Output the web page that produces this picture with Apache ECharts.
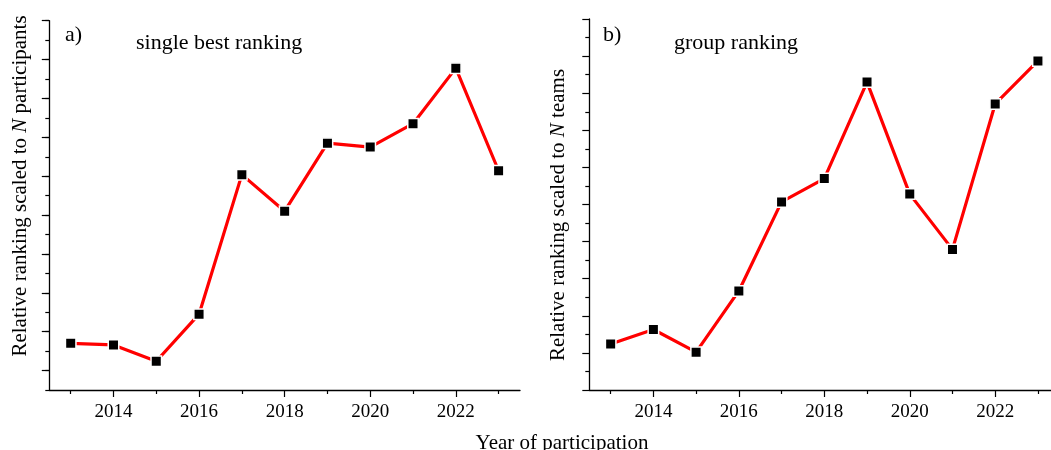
<!DOCTYPE html>
<html>
<head>
<meta charset="utf-8">
<script src="https://cdn.jsdelivr.net/npm/echarts@6/dist/echarts.min.js"></script>
<style>
html,body{margin:0;padding:0;background:#fff;overflow:hidden;}
#chart{width:1051px;height:450px;}
</style>
</head>
<body>
<div id="chart"></div>
<script>
// ---- data ----
const years = ['2013','2014','2015','2016','2017','2018','2019','2020','2021','2022','2023'];
const singleBest = [0.70, 0.66, 0.24, 1.45, 5.04, 4.10, 5.85, 5.75, 6.35, 7.78, 5.14];
const groupRank = [1.24, 1.63, 1.02, 2.67, 5.07, 5.70, 8.30, 5.28, 3.79, 7.71, 8.87];
const leftMajorTicks = [0,1,2,3,4,5,6,7,8,9];

const FONT = 'Liberation Serif';
const chart = echarts.init(document.getElementById('chart'), null, {renderer:'canvas'});

const isEven = (i) => (parseInt(years[i]) % 2 === 0);
const isOdd = (i) => !isEven(i);

function xMain(gridIndex){
  return {
    type:'category', gridIndex, data: years, boundaryGap:true, position:'bottom',
    axisLine:{show:true, onZero:false, lineStyle:{color:'#000', width:1.3}},
    axisTick:{show:true, alignWithLabel:true, length:7, interval:(i)=>isEven(i), lineStyle:{color:'#000', width:1.2}},
    axisLabel:{show:true, interval:(i)=>isEven(i), margin:13, color:'#000', fontFamily:FONT, fontSize:19},
    splitLine:{show:false}
  };
}
function xMinor(gridIndex){
  return {
    type:'category', gridIndex, data: years, boundaryGap:true, position:'bottom',
    axisLine:{show:false, onZero:false},
    axisTick:{show:true, alignWithLabel:true, length:4, interval:(i)=>isOdd(i), lineStyle:{color:'#000', width:1.2}},
    axisLabel:{show:false},
    splitLine:{show:false}
  };
}

const option = {
  animation:false,
  backgroundColor:'#fff',
  grid:[
    {left:49.3, top:20.7, width:470.7, bottom:60, outerBoundsMode:'none', containLabel:false},
    {left:589.3, top:19, width:470, bottom:60, outerBoundsMode:'none', containLabel:false}
  ],
  xAxis:[ xMain(0), xMinor(0), xMain(1), xMinor(1) ],
  yAxis:[
    {type:'value', gridIndex:0, min:-0.5, max:9, interval:0.5,
     axisLine:{show:true, onZero:false, lineStyle:{color:'#000', width:1.3}},
     axisTick:{show:true, length:4, lineStyle:{color:'#000', width:1.2}},
     axisLabel:{show:false}, splitLine:{show:false}},
    {type:'value', gridIndex:0, min:-0.5, max:9, position:'left',
     axisLine:{show:false, onZero:false},
     axisTick:{show:true, length:7.5, customValues:leftMajorTicks, lineStyle:{color:'#000', width:1.2}},
     axisLabel:{show:false}, splitLine:{show:false}},
    {type:'value', gridIndex:1, min:0, max:10, interval:1,
     axisLine:{show:true, onZero:false, lineStyle:{color:'#000', width:1.3}},
     axisTick:{show:true, length:7, lineStyle:{color:'#000', width:1.2}},
     minorTick:{show:true, splitNumber:2, length:4, lineStyle:{color:'#000', width:1.2}},
     axisLabel:{show:false}, splitLine:{show:false}, minorSplitLine:{show:false}}
  ],
  series:[
    {type:'line', xAxisIndex:0, yAxisIndex:0, data:singleBest,
     lineStyle:{color:'#ff0000', width:3.2},
     symbol:'rect', symbolSize:10.5, showAllSymbol:true,
     itemStyle:{color:'#000', borderColor:'#fff', borderWidth:1.5}},
    {type:'line', xAxisIndex:2, yAxisIndex:2, data:groupRank,
     lineStyle:{color:'#ff0000', width:3.2},
     symbol:'rect', symbolSize:10.5, showAllSymbol:true,
     itemStyle:{color:'#000', borderColor:'#fff', borderWidth:1.5}}
  ],
  graphic:[
    {type:'text', x:65, y:35, style:{text:'a)', fontFamily:FONT, fontSize:22, fill:'#000', verticalAlign:'middle'}},
    {type:'text', x:136, y:43, style:{text:'single best ranking', fontFamily:FONT, fontSize:22, fill:'#000', verticalAlign:'middle'}},
    {type:'text', x:603, y:35, style:{text:'b)', fontFamily:FONT, fontSize:22, fill:'#000', verticalAlign:'middle'}},
    {type:'text', x:674, y:43, style:{text:'group ranking', fontFamily:FONT, fontSize:22, fill:'#000', verticalAlign:'middle'}},
    {type:'text', x:20, y:186, rotation:Math.PI/2,
     style:{text:'{a|Relative ranking scaled to }{i|N}{a| participants}', align:'center', verticalAlign:'middle',
       rich:{a:{fontFamily:FONT, fontSize:21, fill:'#000', color:'#000'}, i:{fontFamily:FONT, fontSize:21, fontStyle:'italic', fill:'#000', color:'#000'}}}},
    {type:'text', x:558, y:215, rotation:Math.PI/2,
     style:{text:'{a|Relative ranking scaled to }{i|N}{a| teams}', align:'center', verticalAlign:'middle',
       rich:{a:{fontFamily:FONT, fontSize:21, fill:'#000', color:'#000'}, i:{fontFamily:FONT, fontSize:21, fontStyle:'italic', fill:'#000', color:'#000'}}}},
    {type:'text', x:562, y:443, style:{text:'Year of participation', fontFamily:FONT, fontSize:21, fill:'#000', align:'center', verticalAlign:'middle'}}
  ]
};
chart.setOption(option);
</script>
</body>
</html>
